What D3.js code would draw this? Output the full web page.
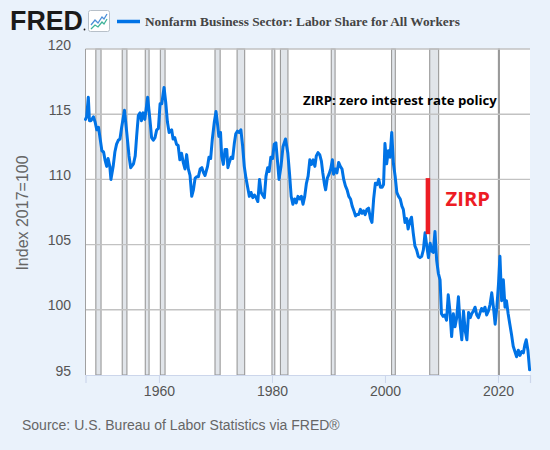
<!DOCTYPE html>
<html><head><meta charset="utf-8">
<script src="https://cdn.jsdelivr.net/npm/d3@7"></script>
<style>html,body{margin:0;padding:0;background:#eaf2fb;} svg{display:block;}</style>
</head><body>
<svg id="c" width="550" height="450"></svg>
<script>
// ---- data ----
const dataYears = [
1947.0,1947.2,1947.5,1947.7,1947.95,1948.4,1948.7,1949.0,1949.3,1949.6,1949.9,1950.2,1950.45,1950.75,1951.0,1951.3,1951.5,1951.9,
1952.2,1952.5,1952.8,1953.1,1953.4,1953.9,1954.3,1954.7,1955.0,1955.5,1955.8,1956.05,1956.35,1956.65,1956.9,1957.2,1957.5,
1958.0,1958.4,1958.7,1959.0,1959.3,1959.6,1959.9,1960.2,1960.5,1960.9,1961.2,1961.5,1961.8,1962.25,1962.5,1962.8,1963.1,1963.4,
1963.7,1964.0,1964.3,1964.6,1964.9,1965.2,1965.5,1965.8,1966.1,1966.4,1966.7,1966.97,1967.3,1967.6,1967.9,1968.15,1968.6,1968.85,
1969.15,1969.45,1969.8,1970.1,1970.4,1970.6,1970.9,1971.1,1971.4,1971.7,1972.0,1972.2,1972.45,1972.75,1973.05,1973.35,1973.6,
1973.9,1974.2,1974.5,1974.8,1975.1,1975.4,1975.7,1976.0,1976.3,1976.6,1976.9,1977.2,1977.5,1977.8,1978.1,1978.35,1978.65,1978.95,
1979.25,1979.5,1979.8,1980.1,1980.4,1980.7,1981.0,1981.25,1981.6,1981.95,1982.4,1982.8,1983.1,1983.4,1983.7,1984.0,1984.3,1984.6,
1984.9,1985.2,1985.5,1985.8,1986.1,1986.4,1986.7,1987.0,1987.3,1987.6,1987.85,1988.15,1988.45,1988.75,1989.0,1989.3,1989.5,1989.8,
1990.1,1990.4,1990.7,1990.9,1991.2,1991.5,1991.8,1992.1,1992.4,1992.7,1993.0,1993.3,1993.6,1993.9,1994.2,1994.5,1994.8,1995.05,
1995.35,1995.65,1995.95,1996.2,1996.5,1996.8,1997.1,1997.4,1997.7,1998.0,1998.3,1998.6,1998.9,1999.2,1999.5,1999.75,2000.0,2000.3,
2000.6,2000.9,2001.2,2001.5,2001.8,2002.1,2002.4,2002.7,2003.0,2003.25,2003.55,2003.85,2004.1,2004.4,2004.7,2005.0,2005.3,2005.6,
2005.9,2006.2,2006.5,2006.8,2007.1,2007.4,2007.7,2008.0,2008.3,2008.55,2008.85,2009.15,2009.45,2009.75,2010.0,2010.3,2010.6,2010.9,
2011.2,2011.5,2011.8,2012.1,2012.4,2012.7,2013.0,2013.3,2013.6,2013.9,2014.2,2014.5,2014.8,2015.1,2015.35,2015.65,2015.95,2016.25,
2016.55,2016.85,2017.1,2017.4,2017.7,2018.0,2018.3,2018.6,2018.9,2019.2,2019.5,2019.8,2020.1,2020.35,2020.65,2020.95,2021.25,2021.5,
2021.8,2022.1,2022.4,2022.7,2023.0,2023.3,2023.6,2023.9,2024.2,2024.5,2024.75,2025.0,2025.3,2025.6];
const laborShare = [
114.6,114.8,116.3,114.5,114.5,114.8,114.4,113.8,114.0,113.1,112.2,112.1,111.5,111.0,111.6,111.0,110.0,111.0,
112.1,112.7,113.0,113.1,114.0,115.3,113.6,111.8,110.9,111.2,111.8,113.3,114.9,115.1,114.5,115.1,114.6,
116.3,114.6,113.2,113.0,113.2,113.8,113.9,115.8,115.8,117.05,115.9,114.4,113.6,113.8,113.1,113.2,112.7,112.6,
111.5,112.0,111.3,110.8,111.9,110.8,110.3,108.7,109.2,110.1,110.2,110.2,110.8,110.9,110.5,110.3,111.0,111.7,
111.6,113.1,114.4,115.2,114.1,113.3,113.6,111.8,111.15,112.3,112.3,110.9,111.3,111.7,111.6,112.8,113.5,
113.7,113.6,113.8,112.6,111.0,110.1,109.4,108.7,109.0,108.6,108.8,108.6,108.3,110.0,109.0,108.8,108.6,110.25,
110.9,110.6,111.7,111.6,112.7,112.8,111.3,110.0,111.0,112.5,113.1,112.05,110.5,108.7,108.1,108.5,108.2,108.7,
108.5,108.7,108.1,108.7,109.7,110.25,111.5,111.15,111.5,111.0,111.8,112.05,111.9,111.4,110.5,109.6,109.2,110.1,
110.4,110.8,111.5,110.4,110.8,110.5,111.3,111.0,110.8,110.0,109.5,109.2,108.7,108.5,107.95,107.6,107.2,107.3,
107.3,107.7,107.4,107.6,107.3,107.7,107.8,107.05,106.7,108.5,109.7,109.6,110.0,109.4,109.4,109.6,112.75,111.2,
112.2,111.7,113.6,111.2,110.25,109.0,108.7,108.5,107.95,107.7,106.7,107.0,106.2,106.8,107.1,105.9,104.9,104.6,
104.1,104.0,104.1,104.6,105.9,104.9,104.0,105.1,104.5,104.4,106.0,103.8,102.8,102.3,99.7,99.5,99.6,99.2,
101.15,99.9,97.95,99.7,98.7,99.4,101.0,98.9,97.7,99.9,98.4,97.7,99.8,99.4,99.7,99.9,100.2,99.6,
99.4,99.8,100.1,99.9,100.2,99.6,99.9,100.4,101.3,100.2,98.9,100.2,102.0,104.1,100.7,102.3,100.2,100.7,
99.7,98.9,98.1,97.2,96.8,96.4,96.9,96.5,96.8,96.7,97.3,97.7,96.9,95.4];
const recessionStart = [1948.83,1953.5,1957.58,1960.25,1969.92,1973.83,1980.0,1981.5,1990.5,2001.17,2007.92,2020.08];
const recessionEnd   = [1949.75,1954.33,1958.25,1961.08,1970.83,1975.17,1980.5,1982.83,1991.17,2001.83,2009.5,2020.25];
const yTicks = [95,100,105,110,115,120];
const xTicks = [1960,1980,2000,2020];
const zirpYear = [2007.6];
const zirpRange = [105.8,110.1];
const chartTitle = "Nonfarm Business Sector: Labor Share for All Workers";
const yAxisTitle = "Index 2017=100";
const sourceText = "Source: U.S. Bureau of Labor Statistics via FRED®";
const noteText = "ZIRP: zero interest rate policy";
const zirpLabel = "ZIRP";

// ---- layout ----
const svg = d3.select("#c");
const L = 85.5, R = 530, T = 49, B = 375;
const x = d3.scaleLinear().domain([1947, 2025.67]).range([L, R]);
const y = d3.scaleLinear().domain([95, 120]).range([B, T]);

svg.append("rect").attr("width",550).attr("height",450).attr("fill","#eaf2fb");
svg.append("rect").attr("x",L).attr("y",T).attr("width",R-L).attr("height",B-T).attr("fill","#ffffff");

// recessions
svg.append("g").selectAll("rect").data(recessionStart).join("rect")
  .attr("x",(d)=>x(d)).attr("y",T)
  .attr("width",(d,i)=>Math.max(1,x(recessionEnd[i])-x(d)))
  .attr("height",B-T)
  .attr("fill","#e1e5ea").attr("stroke","#999999").attr("stroke-width",1.1);

// grid
svg.append("g").selectAll("line").data(yTicks.filter(v=>v>95)).join("line")
  .attr("x1",L).attr("x2",R).attr("y1",d=>y(d)).attr("y2",d=>y(d))
  .attr("stroke","#c2c2c2").attr("stroke-width",1.4);

// left border
svg.append("line").attr("x1",L).attr("x2",L).attr("y1",T).attr("y2",B).attr("stroke","#a0a0a0").attr("stroke-width",1);

// x axis
const xa = svg.append("g").attr("transform",`translate(0,${B})`)
  .call(d3.axisBottom(x).tickValues(xTicks).tickFormat(d3.format("d")).tickSize(8).tickPadding(3));
xa.select(".domain").attr("stroke","#ccd6eb").attr("stroke-width",1.2);
xa.selectAll(".tick line").attr("stroke","#ccd6eb");
xa.selectAll("text").attr("font-family","'Liberation Sans', Arial, sans-serif").attr("font-size",14).attr("fill","#555");

// y axis labels
const ya = svg.append("g").attr("transform",`translate(${L},0)`)
  .call(d3.axisLeft(y).tickValues(yTicks).tickSize(0).tickPadding(14.5));
ya.select(".domain").remove();
ya.selectAll("text").attr("font-family","'Liberation Sans', Arial, sans-serif").attr("font-size",14)
  .attr("fill","#555").attr("dy","0");

// y title
svg.append("text").attr("transform","translate(28,213) rotate(-90)").attr("text-anchor","middle")
  .attr("font-family","'Liberation Sans', Arial, sans-serif").attr("font-size",16).attr("fill","#666").text(yAxisTitle);

// series line
svg.append("path").datum(laborShare.map((v,i)=>[dataYears[i],v]))
  .attr("fill","none").attr("stroke","#0073e6").attr("stroke-width",3)
  .attr("stroke-linejoin","round").attr("stroke-linecap","round")
  .attr("d", d3.line().x(d=>x(d[0])).y(d=>y(d[1])));

// ZIRP marker
svg.append("line").attr("x1",x(zirpYear[0])).attr("x2",x(zirpYear[0]))
  .attr("y1",y(zirpRange[1])).attr("y2",y(zirpRange[0]))
  .attr("stroke","#ed1c24").attr("stroke-width",4.5);

function fitText(sel, w){ const n=sel.node(); const cur=n.getComputedTextLength(); const fs=parseFloat(sel.attr("font-size")); sel.attr("font-size", fs*w/cur); }

const note = svg.append("text").attr("x",303).attr("y",105)
  .attr("font-family","'Open Sans', 'Noto Sans', sans-serif").attr("font-weight","bold").attr("font-size",13)
  .attr("fill","#000").text(noteText);
fitText(note,194);

const zl = svg.append("text").attr("x",445.5).attr("y",205.5)
  .attr("font-family","'Open Sans', 'Noto Sans', sans-serif").attr("font-weight","bold").attr("font-size",21)
  .attr("fill","#ed1c24").text(zirpLabel);
fitText(zl,44.5);

// header
const fred = svg.append("text").attr("x",10).attr("y",30)
  .attr("font-family","'Liberation Sans', Arial, sans-serif").attr("font-weight","bold").attr("font-size",27.5)
  .attr("fill","#1a1a1a").text("FRED");
fred.attr("textLength",73).attr("lengthAdjust","spacingAndGlyphs");
svg.append("circle").attr("cx",84.5).attr("cy",29.5).attr("r",0.9).attr("fill","#1a1a1a");
svg.append("rect").attr("x",88.5).attr("y",10.5).attr("width",21).attr("height",21).attr("rx",2)
  .attr("fill","#ffffff").attr("stroke","#b7c0c9");
svg.append("path").attr("d","M91,25 L95,20 L98,23 L102,17 L104,19 L107,14").attr("fill","none").attr("stroke","#4a8fd8").attr("stroke-width",1.3);
svg.append("path").attr("d","M91,29 L95,25 L98,27 L102,22 L104,24 L107,19").attr("fill","none").attr("stroke","#3fb39a").attr("stroke-width",1.3);
svg.append("line").attr("x1",117).attr("x2",140).attr("y1",21.5).attr("y2",21.5).attr("stroke","#0073e6").attr("stroke-width",3.5);
const title = svg.append("text").attr("x",145).attr("y",26.3)
  .attr("font-family","'Liberation Serif', 'Times New Roman', serif").attr("font-weight","bold").attr("font-size",14)
  .attr("fill","#444").text(chartTitle);
fitText(title,315);

// source
const src = svg.append("text").attr("x",22).attr("y",430)
  .attr("font-family","'Liberation Sans', Arial, sans-serif").attr("font-size",13).attr("fill","#666").text(sourceText);
fitText(src,318);
</script>
</body></html>
